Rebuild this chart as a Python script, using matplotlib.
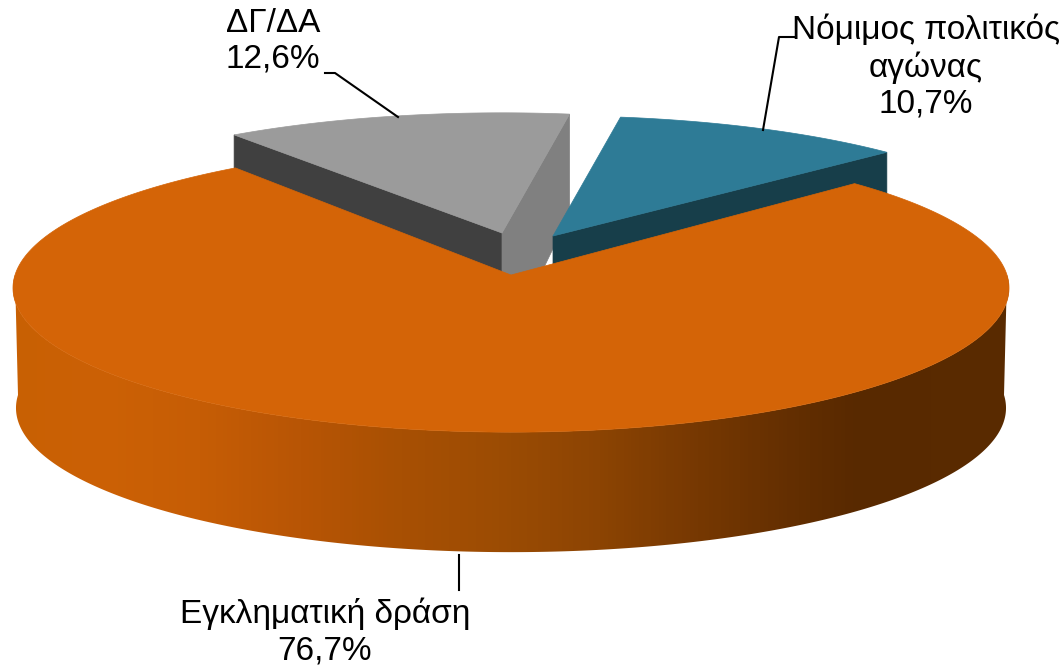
import numpy as np
import matplotlib
matplotlib.use('Agg')
import matplotlib.pyplot as plt
from matplotlib.colors import LinearSegmentedColormap
from matplotlib.patches import Polygon

# Chart data
labels = ['Νόμιμος πολιτικός\nαγώνας', 'ΔΓ/ΔΑ', 'Εγκληματική δράση']
shares = [10.7, 12.6, 76.7]

start_angle = 42.7
persp = 0.09

# gradient of the orange side wall, by pixel x
wall_x = [13, 100, 200, 300, 400, 500, 600, 700, 800, 860, 1009]
wall_colors = ['#C86003', '#CC6106', '#C65D05', '#B85505', '#A85003', '#9C4C04',
               '#8C4403', '#763802', '#622E01', '#582900', '#5A2B00']


def project(theta, cx, cy, a, b):
    t = np.radians(theta)
    s = 1 / (1 + persp * np.sin(t))
    return cx + a * np.cos(t) * s, cy - b * np.sin(t) * s


fig = plt.figure(figsize=(10.63, 6.71), dpi=100)
ax = fig.add_axes([0, 0, 1, 1])

sweeps = [v * 3.6 for v in shares]
teal_from, teal_to = start_angle, start_angle + sweeps[0]
gray_from, gray_to = teal_to, teal_to + sweeps[1]
orange_from, orange_to = gray_to, gray_to + sweeps[2]

# gray slice (pulled out)
gx, gy, sa, sb = 502, 233, 482, 131
g_t = np.linspace(gray_from, gray_to, 100)
g_x, g_y = project(g_t, gx, gy, sa, sb)
ax.fill([gx, g_x[-1], g_x[-1], gx], [gy, g_y[-1], g_y[-1] + 100, gy + 122], color='#404040', lw=0.5, zorder=1)
ax.fill([gx, g_x[0], g_x[0], gx], [gy, g_y[0], g_y[0] + 100, gy + 122], color='#808080', lw=0.5, zorder=1)
ax.fill(np.r_[gx, g_x], np.r_[gy, g_y], color='#9B9B9B', lw=0.5, zorder=2)

# teal slice (pulled out)
tx, ty = 553, 236
t_t = np.linspace(teal_from, teal_to, 100)
t_x, t_y = project(t_t, tx, ty, sa, sb)
ax.fill([tx, t_x[0], t_x[0], tx], [ty, t_y[0], t_y[0] + 100, ty + 122], color='#173E4A', lw=0.5, zorder=3)
ax.fill(np.r_[tx, t_x], np.r_[ty, t_y], color='#2E7B96', lw=0.5, zorder=4)

# orange side wall: a horizontal gradient clipped to the wall outline
ox, oy, oa, ob, depth = 511, 275, 496, 143, 120
edge = np.linspace(180, 360, 400)
top_x, top_y = project(edge, ox, oy, oa, ob)
bot_x, bot_y = project(edge, ox, oy + depth, oa - 3, ob)
outline = Polygon(np.c_[np.r_[top_x, bot_x[::-1]], np.r_[top_y, bot_y[::-1]]], closed=True,
                  facecolor='none', edgecolor='none', transform=ax.transData)
ax.add_patch(outline)
stops = [(x - wall_x[0]) / (wall_x[-1] - wall_x[0]) for x in wall_x]
wall_cmap = LinearSegmentedColormap.from_list('wall', list(zip(stops, wall_colors)))
grad = ax.imshow(np.linspace(0, 1, 996).reshape(1, -1), cmap=wall_cmap, aspect='auto',
                 extent=[wall_x[0], wall_x[-1], 600, 200], zorder=5)
grad.set_clip_path(outline)

# orange top
o_t = np.linspace(orange_from, orange_to, 600)
o_x, o_y = project(o_t, ox, oy, oa, ob)
ax.fill(np.r_[ox, o_x], np.r_[oy, o_y], color='#D46407', lw=0.5, zorder=6)

# leader lines
ax.plot([795, 779, 763], [37, 37, 130], color='black', lw=1.5, zorder=7)
ax.plot([325, 335, 398], [73, 73, 117], color='black', lw=1.5, zorder=7)
ax.plot([459, 459], [555, 590], color='black', lw=1.5, zorder=7)

ax.set_xlim(0, 1063)
ax.set_ylim(671, 0)
ax.axis('off')


# data labels
def label_text(i):
    return labels[i] + '\n' + f'{shares[i]:.1f}%'.replace('.', ',')


text_style = dict(family='Liberation Sans', fontsize=24, ha='center', va='center', color='black', linespacing=1.2)
ax.text(926, 67, label_text(0), **text_style)
ax.text(273, 41, label_text(1), **text_style)
ax.text(325, 632, label_text(2), **text_style)

fig.savefig('out.png', dpi=100)
